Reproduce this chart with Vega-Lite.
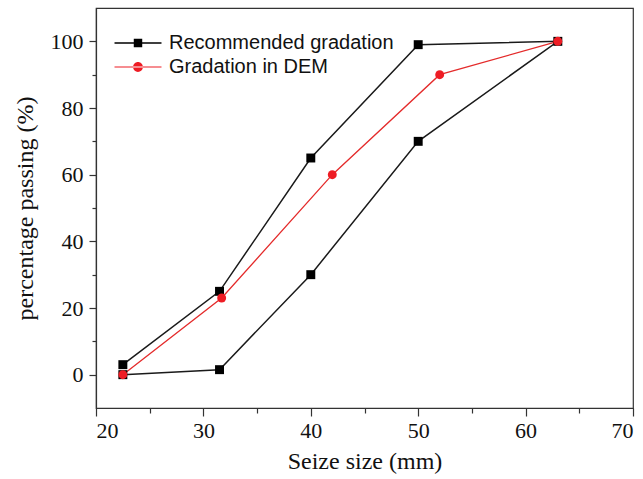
{
  "$schema": "https://vega.github.io/schema/vega-lite/v6.json",
  "autosize": "none",
  "width": 537,
  "height": 400,
  "padding": {"left": 96, "top": 8, "right": 10, "bottom": 71},
  "background": "white",
  "config": {
    "view": {"stroke": "#333333", "strokeWidth": 1.2},
    "axis": {
      "labelFont": "Liberation Serif",
      "titleFont": "Liberation Serif",
      "labelFontSize": 22,
      "titleFontSize": 24,
      "titleFontWeight": "normal",
      "labelColor": "#111",
      "titleColor": "#111",
      "domainColor": "#333333",
      "domainWidth": 1.2,
      "tickColor": "#333333",
      "tickWidth": 1.2,
      "grid": false
    }
  },
  "data": {
    "values": [
      {"series": "Recommended gradation", "size": 22.5, "pass": 0, "ord": 1},
      {"series": "Recommended gradation", "size": 31.5, "pass": 1.5, "ord": 2},
      {"series": "Recommended gradation", "size": 40, "pass": 30, "ord": 3},
      {"series": "Recommended gradation", "size": 50, "pass": 70, "ord": 4},
      {"series": "Recommended gradation", "size": 63, "pass": 100, "ord": 5},
      {"series": "Recommended gradation", "size": 50, "pass": 99, "ord": 6},
      {"series": "Recommended gradation", "size": 40, "pass": 65, "ord": 7},
      {"series": "Recommended gradation", "size": 31.5, "pass": 25, "ord": 8},
      {"series": "Recommended gradation", "size": 22.5, "pass": 3, "ord": 9},
      {"series": "Gradation in DEM", "size": 22.5, "pass": 0, "ord": 1},
      {"series": "Gradation in DEM", "size": 31.7, "pass": 23, "ord": 2},
      {"series": "Gradation in DEM", "size": 42, "pass": 60, "ord": 3},
      {"series": "Gradation in DEM", "size": 52, "pass": 90, "ord": 4},
      {"series": "Gradation in DEM", "size": 63, "pass": 100, "ord": 5}
    ]
  },
  "encoding": {
    "x": {
      "field": "size", "type": "quantitative",
      "scale": {"domain": [20, 70], "nice": false, "zero": false},
      "axis": {
        "title": "Seize size (mm)",
        "values": [20, 25, 30, 35, 40, 45, 50, 55, 60, 65, 70],
        "labelExpr": "datum.value % 10 === 0 ? datum.label : ''",
        "tickSize": {"condition": {"test": "datum.value % 10 === 0", "value": 8}, "value": 5},
        "labelPadding": 4,
        "titlePadding": 8
      }
    },
    "y": {
      "field": "pass", "type": "quantitative",
      "scale": {"domain": [-10, 110], "nice": false, "zero": false},
      "axis": {
        "title": "percentage passing (%)",
        "values": [0, 10, 20, 30, 40, 50, 60, 70, 80, 90, 100],
        "labelExpr": "datum.value % 20 === 0 ? datum.label : ''",
        "tickSize": {"condition": {"test": "datum.value % 20 === 0", "value": 7}, "value": 4},
        "labelPadding": 6,
        "titlePadding": 13
      }
    }
  },
  "layer": [
    {
      "transform": [{"filter": "datum.series === 'Recommended gradation'"}],
      "mark": {"type": "line", "color": "#1a1a1a", "strokeWidth": 1.5},
      "encoding": {"order": {"field": "ord", "type": "quantitative"}}
    },
    {
      "transform": [{"filter": "datum.series === 'Gradation in DEM'"}],
      "mark": {"type": "line", "color": "#e42b2b", "strokeWidth": 1.3},
      "encoding": {"order": {"field": "ord", "type": "quantitative"}}
    },
    {
      "transform": [{"filter": "datum.series === 'Recommended gradation'"}],
      "mark": {"type": "point", "shape": "square", "filled": true, "color": "#000000", "size": 80, "opacity": 1}
    },
    {
      "transform": [{"filter": "datum.series === 'Gradation in DEM'"}],
      "mark": {"type": "point", "shape": "circle", "filled": true, "color": "#ee1c24", "size": 80, "opacity": 1}
    },
    {
      "transform": [{"filter": "datum.ord > 100"}],
      "mark": {"type": "point", "filled": true, "opacity": 1},
      "encoding": {
        "color": {
          "field": "series", "type": "nominal",
          "scale": {"domain": ["Recommended gradation", "Gradation in DEM"], "range": ["#000000", "#ee1c24"]},
          "legend": {
            "title": null,
            "orient": "none",
            "legendX": 32,
            "legendY": 25,
            "symbolOpacity": 1,
            "symbolSize": 353,
            "symbolStrokeWidth": 0,
            "labelFont": "Liberation Sans",
            "labelFontSize": 20,
            "labelColor": "#111",
            "labelLimit": 0,
            "labelOffset": 21,
            "rowPadding": 4
          }
        },
        "shape": {
          "field": "series", "type": "nominal",
          "scale": {
            "domain": ["Recommended gradation", "Gradation in DEM"],
            "range": [
              "M-2.5,-0.07H2.5V0.07H-2.5Z M-0.45,-0.45H0.45V0.45H-0.45Z",
              "M-2.5,-0.06H2.5V0.06H-2.5Z M-0.52,0A0.52,0.52 0 1,0 0.52,0A0.52,0.52 0 1,0 -0.52,0Z"
            ]
          }
        }
      }
    }
  ]
}
